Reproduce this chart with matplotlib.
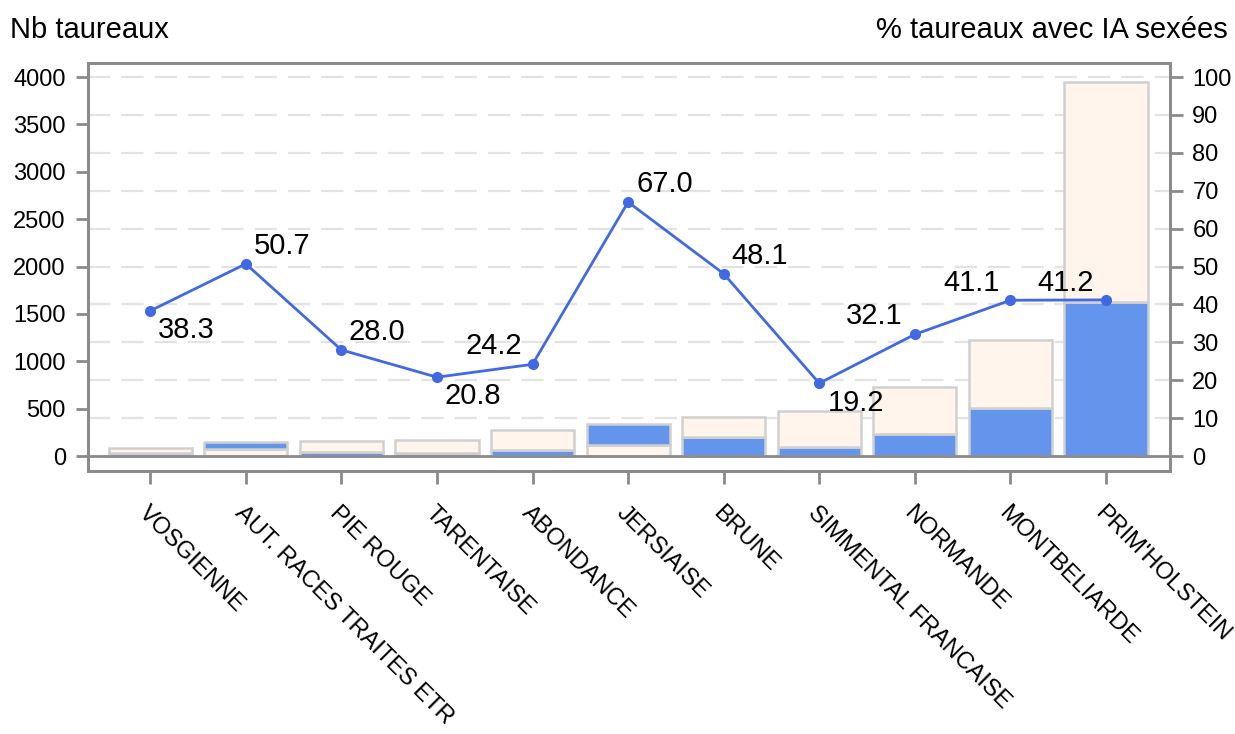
import numpy as np
import matplotlib.pyplot as plt

plt.rcParams["font.family"] = ["Liberation Sans", "DejaVu Sans"]

# --- Data ---
races = ["VOSGIENNE", "AUT. RACES TRAITES ETR", "PIE ROUGE", "TARENTAISE",
         "ABONDANCE", "JERSIAISE", "BRUNE", "SIMMENTAL FRANCAISE",
         "NORMANDE", "MONTBELIARDE", "PRIM'HOLSTEIN"]
n_sexees = [34, 75, 43, 35, 68, 228, 200, 91, 235, 503, 1627]
n_non_sexees = [54, 73, 112, 134, 212, 112, 215, 384, 496, 721, 2323]
pct_sexees = [38.3, 50.7, 28.0, 20.8, 24.2, 67.0, 48.1, 19.2, 32.1, 41.1, 41.2]

# label placement for the % values (pixels offset, alignment)
label_pos = [(8, -19, "left"), (8, 18, "left"), (7, 18, "left"), (8, -19, "left"),
             (-10, 18, "right"), (8, 18, "left"), (8, 18, "left"), (8, -20, "left"),
             (-12, 18, "right"), (-11, 17, "right"), (-12, 17, "right")]

BLUE = "#6495ED"
PEACH = "#FFF5EC"
EDGE = "#d0d0d0"
LINE = "#4169E1"
AXIS = "#8a8a8a"

fig = plt.figure(figsize=(12.35, 7.34), dpi=100)
ax = fig.add_axes([0.0713, 0.3583, 0.8761, 0.5559])
ax2 = ax.twinx()

x = np.arange(len(races))
w = 0.87

# stacked bars: smaller segment at the bottom
for i in x:
    s, ns = n_sexees[i], n_non_sexees[i]
    if s <= ns:
        ax.bar(i, s, w, color=BLUE, edgecolor=EDGE, linewidth=1.8, zorder=2)
        ax.bar(i, ns, w, bottom=s, color=PEACH, edgecolor=EDGE, linewidth=1.8, zorder=2)
    else:
        ax.bar(i, ns, w, color=PEACH, edgecolor=EDGE, linewidth=1.8, zorder=2)
        ax.bar(i, s, w, bottom=ns, color=BLUE, edgecolor=EDGE, linewidth=1.8, zorder=2)

ax.set_xlim(-0.65, 10.67)
ax.set_ylim(-158, 4148)
ax2.set_ylim(-158 / 40, 4148 / 40)

# grid aligned with the right-hand axis
for g in np.arange(400, 4001, 400):
    ax.axhline(g, color="#e3e3e3", linewidth=1.6, dashes=(10, 5), zorder=0)
ax.axhline(0, color=AXIS, linewidth=2, zorder=3)

ax2.plot(x, pct_sexees, color=LINE, linewidth=2, marker="o", markersize=7)
for xi, v, (dx, dy, ha) in zip(x, pct_sexees, label_pos):
    ax2.annotate(f"{v:.1f}", (xi, v), xytext=(dx, dy), textcoords="offset pixels",
                 ha=ha, va="center", fontsize=21)

ax.set_yticks(np.arange(0, 4001, 500))
ax2.set_yticks(np.arange(0, 101, 10))
ax.set_xticks(x)
ax.set_xticklabels(races, rotation=-45, ha="left", va="top",
                   rotation_mode="anchor", fontsize=18.5)

for a in (ax, ax2):
    for sp in a.spines.values():
        sp.set_color(AXIS)
        sp.set_linewidth(2)
    a.tick_params(colors=AXIS, labelcolor="black", width=2, length=9, labelsize=17, pad=7)
ax.tick_params(axis="x", pad=13)

fig.text(10 / 1235, 1 - 30 / 734, "Nb taureaux", fontsize=21, ha="left", va="center")
fig.text(1228 / 1235, 1 - 30 / 734, "% taureaux avec IA sexées", fontsize=21,
         ha="right", va="center")

fig.savefig("out.png", dpi=100)
